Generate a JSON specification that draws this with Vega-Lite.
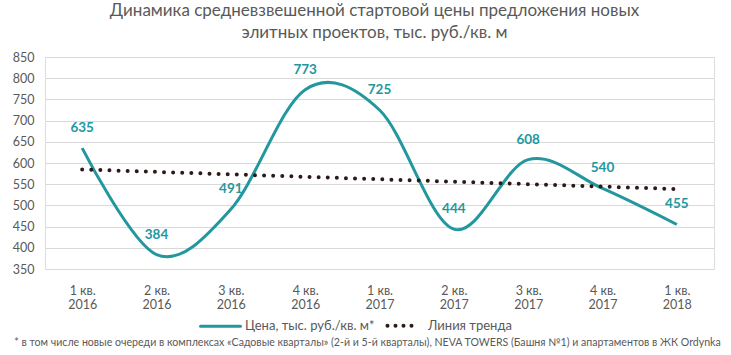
{
  "$schema": "https://vega.github.io/schema/vega-lite/v6.json",
  "autosize": {"type": "none"},
  "width": 669,
  "height": 212,
  "padding": {"left": 45, "top": 57, "right": 17, "bottom": 86},
  "background": "white",
  "title": {
    "text": ["Динамика средневзвешенной стартовой цены предложения новых", "элитных проектов, тыс. руб./кв. м"],
    "font": "Lato",
    "fontSize": 17,
    "fontWeight": "normal",
    "color": "#595959",
    "lineHeight": 22,
    "offset": 9,
    "dx": -5
  },
  "datasets": {
    "rows": [
      {"q": "1 кв. 2016", "i": 1, "value": 635},
      {"q": "2 кв. 2016", "i": 2, "value": 384},
      {"q": "3 кв. 2016", "i": 3, "value": 491},
      {"q": "4 кв. 2016", "i": 4, "value": 773},
      {"q": "1 кв. 2017", "i": 5, "value": 725},
      {"q": "2 кв. 2017", "i": 6, "value": 444},
      {"q": "3 кв. 2017", "i": 7, "value": 608},
      {"q": "4 кв. 2017", "i": 8, "value": 540},
      {"q": "1 кв. 2018", "i": 9, "value": 455}
    ]
  },
  "encoding": {
    "x": {
      "field": "q",
      "type": "ordinal",
      "scale": {
        "type": "point",
        "padding": 0.5,
        "domain": ["1 кв. 2016", "2 кв. 2016", "3 кв. 2016", "4 кв. 2016", "1 кв. 2017", "2 кв. 2017", "3 кв. 2017", "4 кв. 2017", "1 кв. 2018"]
      },
      "axis": {
        "labelExpr": "[slice(datum.label, 0, 5), slice(datum.label, 6)]",
        "labelAngle": 0,
        "labelFont": "Lato",
        "labelFontSize": 12.5,
        "labelColor": "#595959",
        "labelLineHeight": 14,
        "labelPadding": 15,
        "labelBaseline": "top",
        "domain": false,
        "ticks": false,
        "grid": false,
        "title": "* в том числе новые очереди в комплексах «Садовые кварталы» (2-й и 5-й кварталы), NEVA TOWERS (Башня №1) и  апартаментов в ЖК Ordynka",
        "titleFont": "Lato",
        "titleFontSize": 10.6,
        "titleFontWeight": "normal",
        "titleColor": "#595959",
        "titlePadding": 27,
        "titleX": 322
      }
    },
    "y": {
      "field": "value",
      "type": "quantitative",
      "scale": {"domain": [350, 850], "nice": false, "zero": false},
      "axis": {
        "values": [350, 400, 450, 500, 550, 600, 650, 700, 750, 800, 850],
        "labelFont": "Lato",
        "labelFontSize": 12.5,
        "labelColor": "#595959",
        "labelPadding": 11,
        "domain": false,
        "ticks": false,
        "grid": true,
        "gridColor": "#D9D9D9",
        "gridWidth": 1,
        "title": null
      }
    }
  },
  "layer": [
    {
      "data": {"name": "rows"},
      "mark": {"type": "line", "interpolate": "cardinal", "tension": 0, "strokeWidth": 3},
      "encoding": {
        "color": {
          "datum": "Цена, тыс. руб./кв. м*",
          "scale": {"domain": ["Цена, тыс. руб./кв. м*", "Линия тренда"], "range": ["#22979E", "#2B1A17"]},
          "legend": {
            "orient": "none",
            "direction": "horizontal",
            "legendX": 169,
            "legendY": 262,
            "title": null,
            "symbolType": "stroke",
            "symbolSize": 1600,
            "labelFont": "Lato",
            "labelFontSize": 13,
            "labelColor": "#595959",
            "labelOffset": 18,
            "columnPadding": 4,
            "encode": {
              "symbols": {
                "update": {
                  "size": {"signal": "datum.value === 'Линия тренда' ? 1024 : 1600"},
                  "strokeDash": {"signal": "datum.value === 'Линия тренда' ? [0, 8] : [1, 0]"},
                  "strokeWidth": {"signal": "datum.value === 'Линия тренда' ? 4 : 3"},
                  "strokeCap": {"value": "round"}
                }
              }
            }
          }
        }
      }
    },
    {
      "data": {"name": "rows"},
      "transform": [
        {"regression": "value", "on": "i"},
        {"lookup": "i", "from": {"data": {"name": "rows"}, "key": "i", "fields": ["q"]}}
      ],
      "mark": {"type": "line", "strokeWidth": 4, "strokeDash": [0, 9.1], "strokeCap": "round"},
      "encoding": {
        "color": {"datum": "Линия тренда"}
      }
    },
    {
      "data": {"name": "rows"},
      "mark": {"type": "text", "font": "Lato", "fontSize": 13.5, "fontWeight": "bold", "color": "#22979E", "dy": -20, "baseline": "middle"},
      "encoding": {
        "text": {"field": "value", "type": "quantitative"}
      }
    }
  ]
}
